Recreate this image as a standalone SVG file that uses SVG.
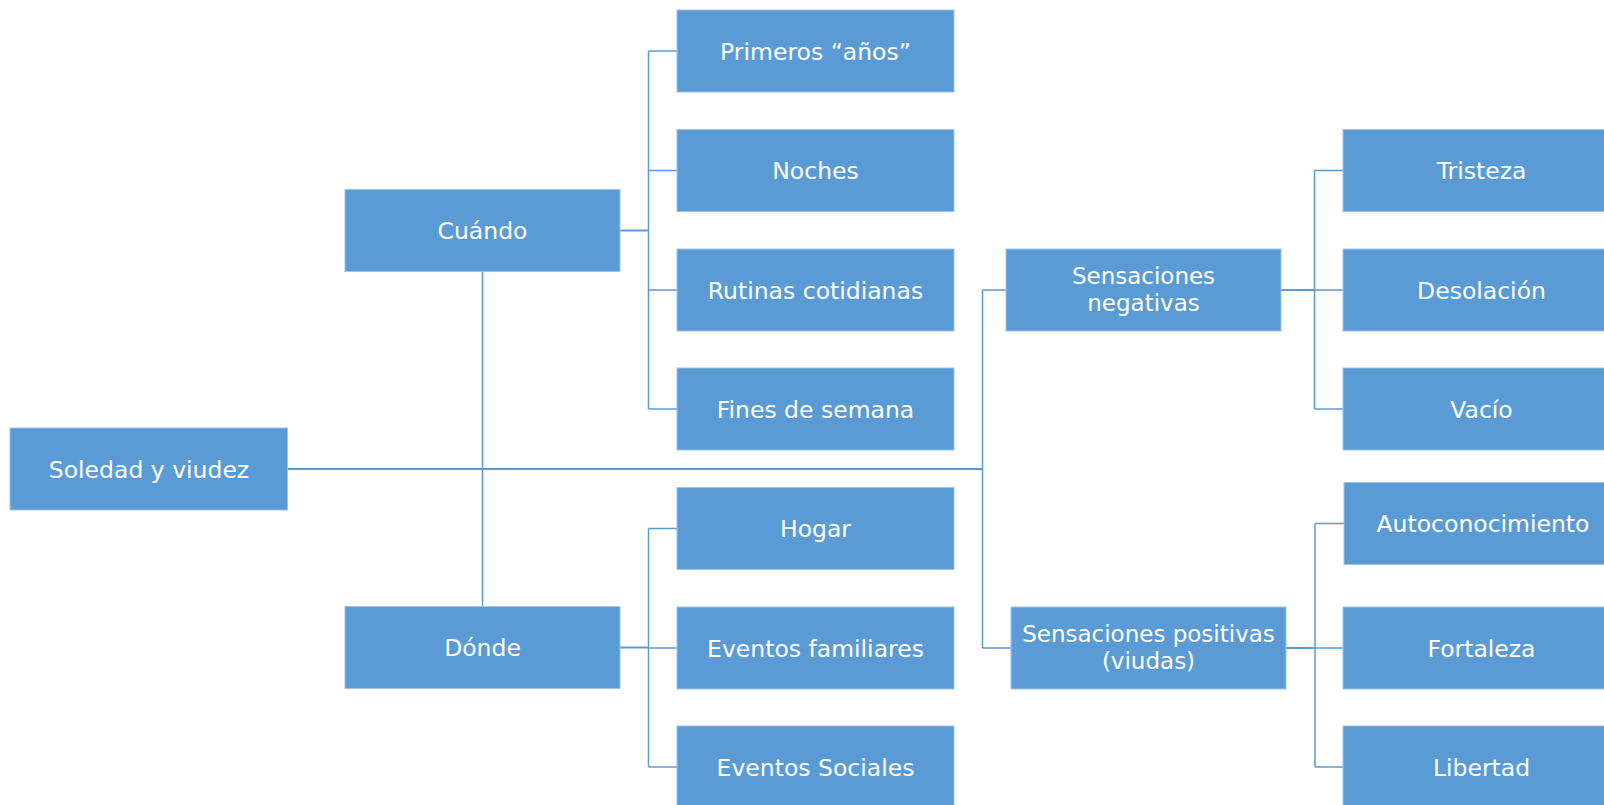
<svg xmlns="http://www.w3.org/2000/svg" width="1604" height="805" viewBox="0 0 1604 805">
<style>
.box{fill:#5B9BD5;stroke:#9DC3E6;stroke-width:1}
.t{fill:#ffffff;font-family:"DejaVu Sans",Verdana,sans-serif;font-size:23.5px;text-anchor:middle}
.t2{fill:#ffffff;font-family:"DejaVu Sans",Verdana,sans-serif;font-size:23px;text-anchor:middle}
.c{fill:none;stroke:#5B9BD5;stroke-width:1.5}
.cm{fill:none;stroke:#5B9BD5;stroke-width:2}
</style>
<rect width="1604" height="805" fill="#ffffff"/>
<g id="connectors">
<path class="cm" d="M287.5 469H982.5"/>
<path class="c" d="M482.5 271V606.5"/>
<path class="c" d="M982.5 290V648M982.5 290H1006M982.5 648H1011"/>
<path class="cm" d="M620 230.5H648.5"/>
<path class="c" d="M648.5 51V409M648.5 51H677M648.5 170.5H677M648.5 290H677M648.5 409H677"/>
<path class="cm" d="M620 647.5H648.5"/>
<path class="c" d="M648.5 528.5V767M648.5 528.5H677M648.5 648H677M648.5 767H677"/>
<path class="cm" d="M1281 290H1314.5"/>
<path class="c" d="M1314.5 170.5V409M1314.5 170.5H1343M1314.5 290H1343M1314.5 409H1343"/>
<path class="cm" d="M1286 648H1315"/>
<path class="c" d="M1315 523.5V767M1315 523.5H1344M1315 648H1343M1315 767H1343"/>
</g>
<g id="soledad"><rect class="box" x="10" y="428" width="277.5" height="82"/><text class="t" x="149" y="477.5">Soledad y viudez</text></g>
<g id="cuando"><rect class="box" x="345" y="189.5" width="275" height="82"/><text class="t" x="482.5" y="239">Cuándo</text></g>
<g id="donde"><rect class="box" x="345" y="606.5" width="275" height="82"/><text class="t" x="482.5" y="656">Dónde</text></g>
<g id="primeros"><rect class="box" x="677" y="10" width="277" height="82"/><text class="t" x="815.5" y="59.5">Primeros “años”</text></g>
<g id="noches"><rect class="box" x="677" y="129.5" width="277" height="82"/><text class="t" x="815.5" y="179">Noches</text></g>
<g id="rutinas"><rect class="box" x="677" y="249" width="277" height="82"/><text class="t" x="815.5" y="298.5">Rutinas cotidianas</text></g>
<g id="fines"><rect class="box" x="677" y="368" width="277" height="82"/><text class="t" x="815.5" y="417.5">Fines de semana</text></g>
<g id="hogar"><rect class="box" x="677" y="487.5" width="277" height="82"/><text class="t" x="815.5" y="537">Hogar</text></g>
<g id="eventos-familiares"><rect class="box" x="677" y="607" width="277" height="82"/><text class="t" x="815.5" y="656.5">Eventos familiares</text></g>
<g id="eventos-sociales"><rect class="box" x="677" y="726" width="277" height="82"/><text class="t" x="815.5" y="775.5">Eventos Sociales</text></g>
<g id="sens-negativas"><rect class="box" x="1006" y="249" width="275" height="82"/><text class="t2" x="1143.5" y="283.5">Sensaciones</text><text class="t2" x="1143.5" y="310.5">negativas</text></g>
<g id="sens-positivas"><rect class="box" x="1011" y="607" width="275" height="82"/><text class="t2" x="1148.5" y="641.5">Sensaciones positivas</text><text class="t2" x="1148.5" y="668.5">(viudas)</text></g>
<g id="tristeza"><rect class="box" x="1343" y="129.5" width="277" height="82"/><text class="t" x="1481.5" y="179">Tristeza</text></g>
<g id="desolacion"><rect class="box" x="1343" y="249" width="277" height="82"/><text class="t" x="1481.5" y="298.5">Desolación</text></g>
<g id="vacio"><rect class="box" x="1343" y="368" width="277" height="82"/><text class="t" x="1481.5" y="417.5">Vacío</text></g>
<g id="autoconocimiento"><rect class="box" x="1344" y="482.5" width="277" height="82"/><text class="t" x="1483" y="532">Autoconocimiento</text></g>
<g id="fortaleza"><rect class="box" x="1343" y="607" width="277" height="82"/><text class="t" x="1481.5" y="656.5">Fortaleza</text></g>
<g id="libertad"><rect class="box" x="1343" y="726" width="277" height="82"/><text class="t" x="1481.5" y="775.5">Libertad</text></g>
</svg>
